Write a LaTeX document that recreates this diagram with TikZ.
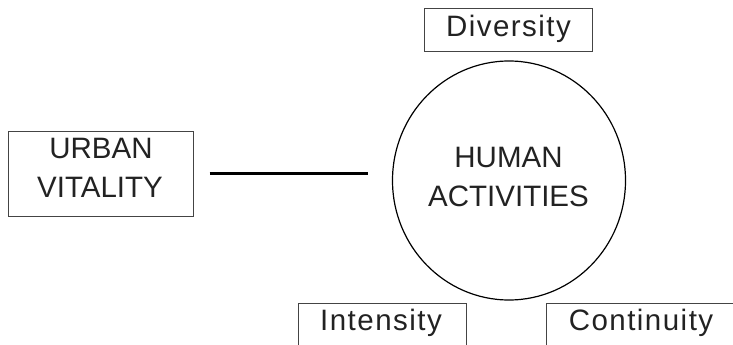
\documentclass[tikz,border=0pt]{standalone}
\usepackage{fontspec}
\setmainfont{Liberation Sans}
\newfontfamily\spacedfont[LetterSpace=5]{Liberation Sans}
\usetikzlibrary{shapes.geometric}
\definecolor{ink}{HTML}{222222}
\definecolor{edge}{HTML}{444444}
\tikzset{
  boxs/.style={draw=edge, line width=1pt, rectangle, inner sep=0pt},
  lbl/.style={text=ink, font=\fontsize{29.5}{39}\selectfont, inner sep=0pt},
  lbls/.style={text=ink, font=\spacedfont\fontsize{29.5}{39}\selectfont, inner sep=0pt},
  hub/.style={draw=black, line width=1.2pt, ellipse, inner sep=0pt},
  link/.style={draw=black, line width=2.5pt}
}
\begin{document}
\begin{tikzpicture}[x=1pt,y=-1pt]
\useasboundingbox (0,0) rectangle (733,345);
\clip (0,0) rectangle (733,345);
% boxes
\node[boxs, minimum width=168pt, minimum height=43pt] (div) at (508,30.5) {};
\node[boxs, minimum width=185pt, minimum height=85pt] (uv) at (100.5,173.5) {};
\node[hub, minimum width=233pt, minimum height=239pt] (ha) at (509,180.5) {};
\node[boxs, minimum width=168pt, minimum height=80pt, anchor=north west] (int) at (298,303) {};
\node[boxs, minimum width=190pt, minimum height=80pt, anchor=north west] (con) at (546,303) {};
% texts
\node[lbls, anchor=base] (divt) at (508.5,37) {Diversity};
\node[lbl, anchor=base] (uvt1) at (101,158) {URBAN};
\node[lbl, anchor=base] (uvt2) at (100,197) {VITALITY};
\node[lbl, anchor=base] (hat1) at (508.5,167) {HUMAN};
\node[lbl, anchor=base] (hat2) at (508.5,206) {ACTIVITIES};
\node[lbls, anchor=base] (intt) at (381,330) {Intensity};
\node[lbls, anchor=base] (cont) at (641,330) {Continuity};
% connector
\draw[link, shorten <=16pt, shorten >=24pt] (uv.east) -- (uv.east -| ha.west);
\end{tikzpicture}
\end{document}
